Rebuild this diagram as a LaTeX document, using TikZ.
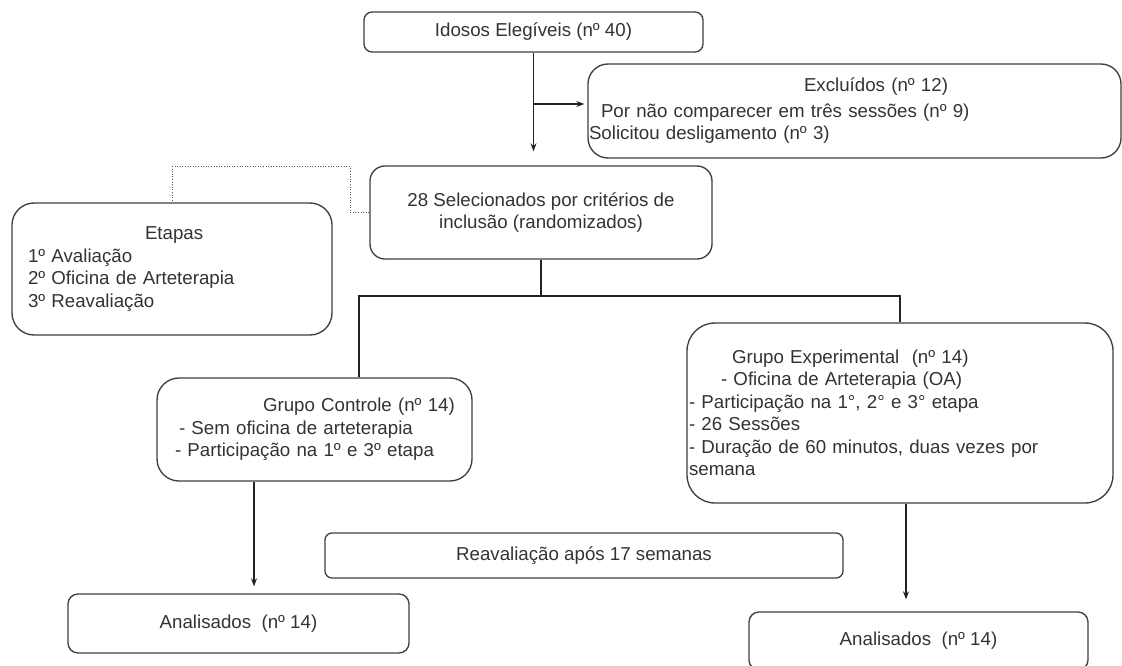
\documentclass[tikz,border=0pt]{standalone}
\usepackage{fontspec}
\setmainfont{Liberation Sans}
\usetikzlibrary{arrows.meta}
\definecolor{txtgray}{HTML}{333333}
\definecolor{linegray}{HTML}{404040}
\definecolor{arrgray}{HTML}{222222}

\begin{document}
\begin{tikzpicture}[x=1pt,y=-1pt]

	\tikzstyle{every node}=[font=\fontsize{18.7}{22.5}\selectfont, text=txtgray]
	\tikzstyle{box}=[draw=linegray, line width=1.35pt, inner sep=1pt]
	\tikzstyle{arrow}=[draw=arrgray, line width=1.2pt, ->, >={Stealth[length=8pt,width=6pt]}]
	\tikzstyle{link}=[draw=arrgray, line width=1.2pt]
	\tikzstyle{dotline}=[draw=black!65, line width=1pt, dash pattern=on 1pt off 1.6pt]

	\path[fill=white, use as bounding box] (0,0) rectangle (1122,666);

	\node[box, rounded corners=8pt, minimum width=339pt, minimum height=40pt]  (idosos)  at (533.5,32)  {Idosos Elegíveis (nº 40)};
	\node[box, rounded corners=20pt, minimum width=533pt, minimum height=94pt, text width=531pt, align=left] (exclu) at (854.5,111)
		{\hspace*{215pt}Excluídos (nº 12)\\[3pt]
		 \hspace*{12pt}Por não comparecer em três sessões (nº 9)\\
		 Solicitou desligamento (nº 3)};
	\node[box, rounded corners=15pt, minimum width=342pt, minimum height=93pt, align=center] (selec) at (541,212.5)
		{28 Selecionados por critérios de\\inclusão (randomizados)};
	\node[box, rounded corners=22pt, minimum width=320pt, minimum height=132pt, text width=288pt, inner xsep=16pt, align=left] (etapas) at (172,269)
		{\hspace*{117pt}Etapas\\1º Avaliação\\2º Oficina de Arteterapia\\3º Reavaliação};
	\node[box, rounded corners=22pt, minimum width=315pt, minimum height=103pt, text width=313pt, align=left] (gcont) at (314.5,429.5)
		{\hspace*{105pt}Grupo Controle (nº 14)\\
		 \hspace*{21pt}- Sem oficina de arteterapia\\
		 \hspace*{17pt}- Participação na 1º e 3º etapa};
	\node[box, rounded corners=28pt, minimum width=426pt, minimum height=180pt, text width=422pt, inner xsep=2pt, align=left] (gexpe) at (900,413)
		{\hspace*{43pt}Grupo Experimental\ \ (nº 14)\\
		 \hspace*{32pt}- Oficina de Arteterapia (OA)\\
		 - Participação na 1°, 2° e 3° etapa\\
		 - 26 Sessões\\
		 - Duração de 60 minutos, duas vezes por\\
		 semana};
	\node[box, rounded corners=7pt, minimum width=518pt, minimum height=45pt]  (reava)   at (584,555.5) {Reavaliação após 17 semanas};
	\node[box, rounded corners=10pt, minimum width=341pt, minimum height=59pt] (anacont) at (238.5,623.5) {Analisados\ \ (nº 14)};
	\node[box, rounded corners=10pt, minimum width=339pt, minimum height=58pt] (anaexpe) at (918.5,641) {Analisados\ \ (nº 14)};

	% ligacoes
	\coordinate (split)   at (533.5,104);
	\coordinate (dotbend) at (350,167);
	\coordinate (busl)    at (359,296);
	\coordinate (contout) at ([xshift=-60.5pt]gcont.south);
	\coordinate (expeout) at ([xshift=6pt]gexpe.south);

	\draw[arrow, shorten >=14pt] (idosos.south) -- (idosos.south |- selec.north);
	\draw[arrow, shorten >=3pt]  (split) -- (split -| exclu.west);
	\draw[dotline] (selec.west) -| (dotbend) -| (etapas.north);
	\draw[link] (selec.south) -- (selec.south |- busl);
	\draw[link] (gcont.north -| busl) -- (busl) -| (gexpe.north);
	\draw[arrow, shorten >=7pt]  (contout) -- (contout |- anacont.north);
	\draw[arrow, shorten >=12pt] (expeout) -- (expeout |- anaexpe.north);

\end{tikzpicture}
\end{document}
